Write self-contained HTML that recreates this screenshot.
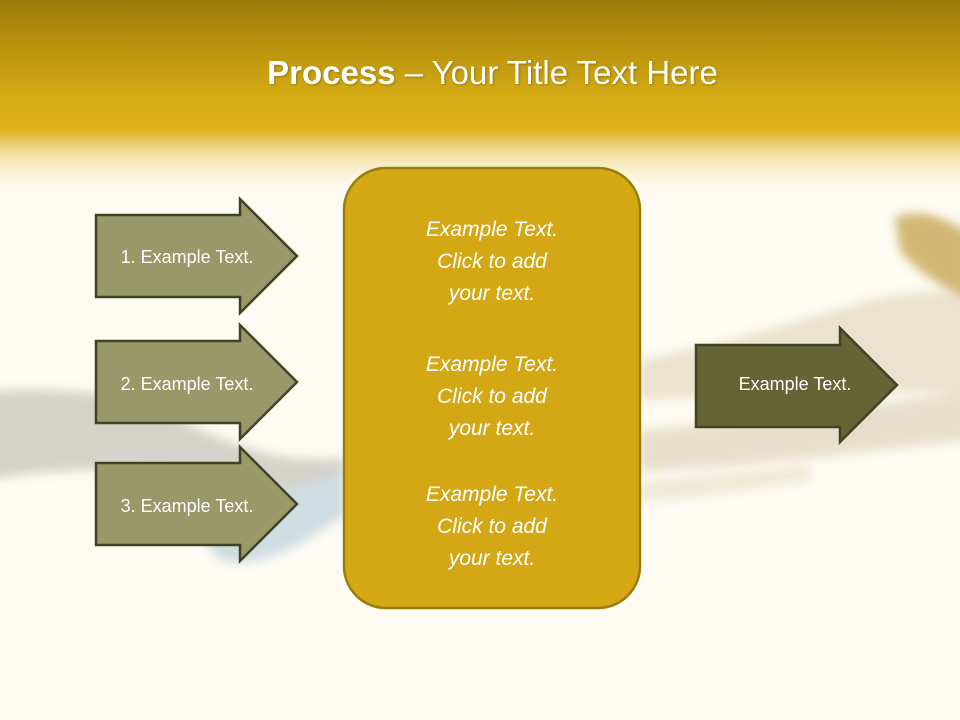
<!DOCTYPE html>
<html><head><meta charset="utf-8"><style>
html,body{margin:0;padding:0}
body{width:960px;height:720px;position:relative;overflow:hidden;background:#FDFBF2;font-family:"Liberation Sans",sans-serif}
.top{position:absolute;left:0;top:0;width:960px;height:200px;background:linear-gradient(to bottom,#9C7A0A 0px,#B8920E 45px,#D7AC14 100px,#DDB015 128px,#EFD68A 148px,#F8ECC6 165px,#FCF7E6 182px,#FDFBF2 198px)}
.title{position:absolute;left:0;top:54px;width:985px;text-align:center;color:#fff;font-size:33px;text-shadow:1px 1px 2px rgba(0,0,0,.25)}
svg{position:absolute;left:0;top:0}
.t{fill:#fff;font-family:"Liberation Sans",sans-serif;font-size:18px}
.i{fill:#fff;font-family:"Liberation Sans",sans-serif;font-size:21px;font-style:italic}
</style></head><body>
<div class="top"></div>
<svg width="960" height="720">
<defs>
<filter id="b" x="-30%" y="-30%" width="160%" height="160%"><feGaussianBlur stdDeviation="5"/></filter>
</defs>
<g filter="url(#b)" opacity="0.85">
<path d="M-20,392 C60,386 120,392 170,415 C230,445 280,465 345,458 L345,480 C300,500 250,500 200,480 C140,462 60,470 -20,480 Z" fill="#CFCCC2"/>
<path d="M190,480 C250,500 300,490 345,470 L345,515 C300,545 260,570 220,560 C200,540 195,520 190,500 Z" fill="#C6D8E0"/>
<path d="M640,360 C720,345 800,320 870,300 C910,290 940,290 970,295 L970,395 C900,390 800,392 700,398 L640,400 Z" fill="#E8DFC8"/>
<path d="M895,218 C915,208 945,215 970,235 L970,300 C945,290 915,270 900,250 Z" fill="#CBAA60"/>
<path d="M640,430 C740,420 840,408 970,392 L970,440 C860,452 760,466 640,472 Z" fill="#E4DBC6"/>
<path d="M640,482 C700,476 760,470 810,465 L810,480 C750,490 700,497 640,502 Z" fill="#EDE6D2"/>
</g>
<g stroke="#3F4424" stroke-width="2.5" fill="#989868">
<path d="M96,215 H240 V199 L297,256 L240,313 V297 H96 Z"/>
<path d="M96,341 H240 V325 L297,382 L240,439 V423 H96 Z"/>
<path d="M96,463 H240 V447 L297,504 L240,561 V545 H96 Z"/>
<path d="M696,345 H840 V328 L897,385 L840,442 V427 H696 Z" fill="#646434"/>
</g>
<rect x="344" y="168" width="296" height="440" rx="42" fill="#D3A814" stroke="#9A7D10" stroke-width="2.5"/>
<g class="t" text-anchor="middle">
<text x="187" y="263">1. Example Text.</text>
<text x="187" y="390">2. Example Text.</text>
<text x="187" y="512">3. Example Text.</text>
<text x="795" y="390">Example Text.</text>
</g>
<g class="i" text-anchor="middle">
<text x="492" y="236">Example Text.</text><text x="492" y="268">Click  to add</text><text x="492" y="300">your text.</text>
<text x="492" y="371">Example Text.</text><text x="492" y="403">Click  to add</text><text x="492" y="435">your text.</text>
<text x="492" y="501">Example Text.</text><text x="492" y="533">Click  to add</text><text x="492" y="565">your text.</text>
</g>
</svg>
<div class="title"><b>Process</b> – Your Title Text Here</div>
</body></html>
